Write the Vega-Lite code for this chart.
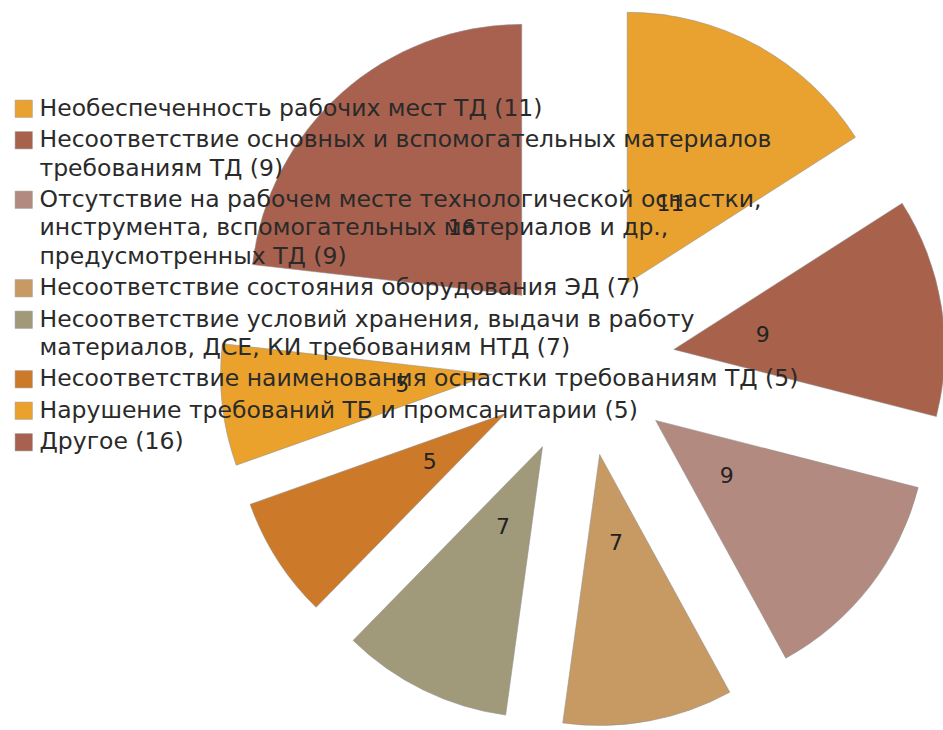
{
  "$schema": "https://vega.github.io/schema/vega-lite/v6.json",
  "width": 943,
  "height": 730,
  "padding": 0,
  "autosize": {"type": "none"},
  "background": "white",
  "config": {"view": {"stroke": null}},
  "data": {
    "values": [
      {"cat": "Необеспеченность рабочих мест ТД (11)", "value": 11},
      {"cat": "Несоответствие основных и вспомогательных материалов\nтребованиям ТД  (9)", "value": 9},
      {"cat": "Отсутствие на рабочем месте технологической оснастки,\nинструмента, вспомогательных материалов и др.,\nпредусмотренных ТД (9)", "value": 9},
      {"cat": "Несоответствие состояния оборудования ЭД (7)", "value": 7},
      {"cat": "Несоответствие условий хранения, выдачи в работу\nматериалов, ДСЕ, КИ требованиям НТД (7)", "value": 7},
      {"cat": "Несоответствие наименования оснастки требованиям ТД  (5)", "value": 5},
      {"cat": "Нарушение требований ТБ и промсанитарии (5)", "value": 5},
      {"cat": "Другое (16)", "value": 16}
    ]
  },
  "transform": [
    {"window": [{"op": "sum", "field": "value", "as": "cum"}], "frame": [null, 0]},
    {"joinaggregate": [{"op": "sum", "field": "value", "as": "total"}]},
    {"calculate": "(datum.cum - datum.value) / datum.total", "as": "f0"},
    {"calculate": "datum.cum / datum.total", "as": "f1"},
    {"calculate": "2 * PI * (datum.cum - datum.value / 2) / datum.total", "as": "mid"},
    {"calculate": "92 * sin(datum.mid)", "as": "ex"},
    {"calculate": "-92 * cos(datum.mid)", "as": "ey"},
    {"calculate": "182 * sin(datum.mid)", "as": "lx"},
    {"calculate": "-182 * cos(datum.mid)", "as": "ly"}
  ],
  "layer": [
    {
      "mark": {"type": "arc", "outerRadius": 271, "stroke": "#8f8f8f", "strokeWidth": 0.8, "strokeOpacity": 0.7},
      "encoding": {
        "theta": {"field": "f0", "type": "quantitative", "stack": null, "scale": {"domain": [0, 1], "range": [0, 6.283185307179586]}},
        "theta2": {"field": "f1"},
        "x": {"field": "ex", "type": "quantitative", "stack": null, "axis": null, "scale": {"domain": [-583, 360], "range": [0, 943], "zero": false, "nice": false}},
        "y": {"field": "ey", "type": "quantitative", "stack": null, "axis": null, "scale": {"domain": [-364, 366], "range": [0, 730], "zero": false, "nice": false}},
        "color": {
          "field": "cat",
          "type": "nominal",
          "scale": {
            "domain": [
              "Необеспеченность рабочих мест ТД (11)",
              "Несоответствие основных и вспомогательных материалов\nтребованиям ТД  (9)",
              "Отсутствие на рабочем месте технологической оснастки,\nинструмента, вспомогательных материалов и др.,\nпредусмотренных ТД (9)",
              "Несоответствие состояния оборудования ЭД (7)",
              "Несоответствие условий хранения, выдачи в работу\nматериалов, ДСЕ, КИ требованиям НТД (7)",
              "Несоответствие наименования оснастки требованиям ТД  (5)",
              "Нарушение требований ТБ и промсанитарии (5)",
              "Другое (16)"
            ],
            "range": ["#E9A22F", "#A8614A", "#B38A80", "#C79A63", "#A09A7A", "#CC7A2A", "#EBA22C", "#A8614E"]
          },
          "legend": {
            "orient": "none",
            "legendX": 12,
            "legendY": 97,
            "title": null,
            "padding": 0,
            "symbolType": "square",
            "symbolSize": 300,
            "symbolStrokeColor": "#999",
            "symbolStrokeWidth": 0.5,
            "labelFont": "DejaVu Sans",
            "labelFontSize": 23.5,
            "labelColor": "#2a2a2a",
            "labelLimit": 2000,
            "labelOffset": 4,
            "rowPadding": 6.5,
            "labelExpr": "split(datum.label, '\\n')",
            "encode": {"labels": {"update": {"lineHeight": {"value": 28.5}}}}
          }
        }
      }
    },
    {
      "mark": {"type": "text", "font": "DejaVu Sans", "fontSize": 22, "fill": "#222", "align": "center", "baseline": "middle"},
      "encoding": {
        "x": {"field": "lx", "type": "quantitative", "stack": null, "axis": null, "scale": {"domain": [-583, 360], "range": [0, 943], "zero": false, "nice": false}},
        "y": {"field": "ly", "type": "quantitative", "stack": null, "axis": null, "scale": {"domain": [-364, 366], "range": [0, 730], "zero": false, "nice": false}},
        "text": {"field": "value", "type": "quantitative"}
      }
    }
  ]
}
